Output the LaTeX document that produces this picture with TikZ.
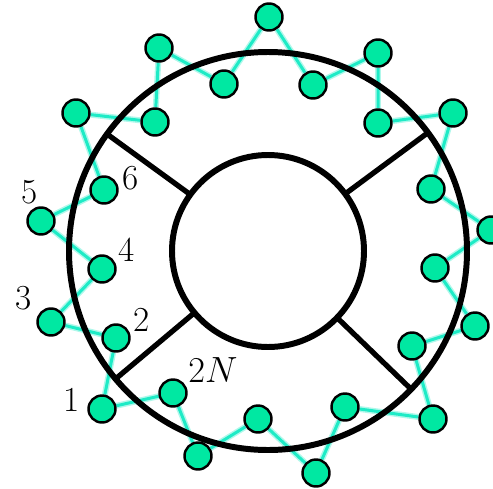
\documentclass[tikz,border=0pt]{standalone}
\usepackage{tikz}
\usetikzlibrary{positioning,calc,backgrounds}
\definecolor{beadgreen}{HTML}{00E8A2}
\definecolor{chaincyan}{HTML}{1EEBC6}

\begin{document}
\begin{tikzpicture}[
  x=0.02cm, y=0.02cm,
  mono/.style={draw, circle, line width=1.4pt, fill=beadgreen, minimum size=0.54cm, inner sep=0pt},
  bond/.style={line width=1.7pt, draw=chaincyan, preaction={draw=chaincyan!35, line width=3.4pt}},
  wall/.style={line width=3.4pt, black},
  spoke/.style={line width=3pt, black},
  lbl/.style={font=\fontsize{20}{24}\selectfont, inner sep=0pt}]
\useasboundingbox (0,0) rectangle (493,488);
\coordinate (c) at (268,237);
\node[mono] (b1) at (102,79) {};
\node[mono] (b2) at (116,150) {};
\node[mono] (b3) at (51,166) {};
\node[mono] (b4) at (102,219) {};
\node[mono] (b5) at (41,267) {};
\node[mono] (b6) at (104,298) {};
\node[mono] (b7) at (76,375) {};
\node[mono] (b8) at (155,366) {};
\node[mono] (b9) at (159,440) {};
\node[mono] (b10) at (224,404) {};
\node[mono] (b11) at (269,471) {};
\node[mono] (b12) at (313,403) {};
\node[mono] (b13) at (378,435) {};
\node[mono] (b14) at (378,365) {};
\node[mono] (b15) at (453,375) {};
\node[mono] (b16) at (431,299) {};
\node[mono] (b17) at (491,258) {};
\node[mono] (b18) at (435,220) {};
\node[mono] (b19) at (475,162) {};
\node[mono] (b20) at (412,142) {};
\node[mono] (b21) at (433,69) {};
\node[mono] (b22) at (345,81) {};
\node[mono] (b23) at (316,15) {};
\node[mono] (b24) at (258,69) {};
\node[mono] (b25) at (198,32) {};
\node[mono] (b26) at (173,95) {};
\node[lbl] (l1) at ([shift={(-30,9)}]b1) {1};
\node[lbl] (l2) at ([shift={(26,18)}]b2) {2};
\node[lbl] (l3) at ([shift={(-27,24)}]b3) {3};
\node[lbl] (l4) at ([shift={(25,19)}]b4) {4};
\node[lbl] (l5) at ([shift={(-11,29)}]b5) {5};
\node[lbl] (l6) at ([shift={(27,12)}]b6) {6};
\node[lbl] (l2N) at ([shift={(40,23)}]b26) {$2N$};
\begin{pgfonlayer}{background}
\draw[bond] (b1) -- (b2) -- (b3) -- (b4) -- (b5) -- (b6) -- (b7) -- (b8) -- (b9) -- (b10) -- (b11) -- (b12) -- (b13)
  -- (b14) -- (b15) -- (b16) -- (b17) -- (b18) -- (b19) -- (b20) -- (b21) -- (b22) -- (b23) -- (b24) -- (b25) -- (b26) -- (b1);
\draw[wall] (c) circle[radius=199];
\draw[wall] (c) circle[radius=96];
\draw[spoke] ($(c)+(36.5:96)$) -- ($(c)+(36.5:199)$);
\draw[spoke] ($(c)+(144:96)$) -- ($(c)+(144:199)$);
\draw[spoke] ($(c)+(220:96)$) -- ($(c)+(220:199)$);
\draw[spoke] ($(c)+(316:96)$) -- ($(c)+(316:199)$);
\end{pgfonlayer}
\end{tikzpicture}
\end{document}
